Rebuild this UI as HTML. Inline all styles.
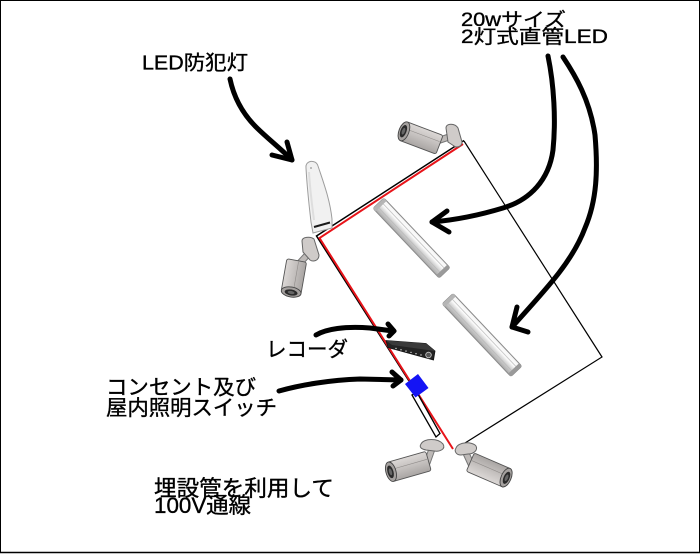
<!DOCTYPE html>
<html>
<head>
<meta charset="utf-8">
<style>
  html,body{margin:0;padding:0;background:#fff;}
  body{width:700px;height:554px;overflow:hidden;position:relative;}
  svg{position:absolute;left:0;top:0;}
  text{font-family:"Liberation Sans","Noto Sans CJK JP",sans-serif;fill:#000;stroke:#000;stroke-width:0.35;}
</style>
</head>
<body>
<svg width="700" height="554" viewBox="0 0 700 554" xmlns="http://www.w3.org/2000/svg">
  <defs>
    <linearGradient id="tube" x1="0" y1="0" x2="0" y2="1">
      <stop offset="0" stop-color="#f4f4f4"/>
      <stop offset="0.35" stop-color="#ffffff"/>
      <stop offset="0.6" stop-color="#d8d8d8"/>
      <stop offset="1" stop-color="#a9a9a9"/>
    </linearGradient>
    <linearGradient id="body" x1="0" y1="0" x2="0" y2="1">
      <stop offset="0" stop-color="#dcd8d6"/>
      <stop offset="0.5" stop-color="#c4c0be"/>
      <stop offset="1" stop-color="#a9a5a3"/>
    </linearGradient>
  </defs>

  <!-- frame -->
  <rect x="0.5" y="0.5" width="699" height="552" fill="#fff" stroke="#000" stroke-width="1"/>
  <line x1="0" y1="552.5" x2="700" y2="552.5" stroke="#000" stroke-width="1.5"/>

  <!-- building outline (thin black) -->
  <polyline points="464,141 602,357 465,443" fill="none" stroke="#000" stroke-width="1.2"/>
  <!-- outer black along wiring -->
  <polyline points="464,140.5 316.5,236 409,381" fill="none" stroke="#000" stroke-width="1.5"/>
  <!-- red wiring -->
  <polyline points="463,144 319.5,238 453,449" fill="none" stroke="#e8141a" stroke-width="2"/>
  <line x1="429" y1="445" x2="432" y2="442" stroke="#e8141a" stroke-width="1.5"/>

  <!-- conduit -->
  <polygon points="412,395 417,392.5 440,433.5 436,437" fill="#fff" stroke="#000" stroke-width="1.3"/>

  <!-- blue switch box -->
  <polygon points="405,384 418,374 428.5,388 415.5,397.5" fill="#1414f5"/>

  <!-- recorder -->
  <polygon points="386,340.5 426,343.5 435,351 433.5,360 388,347.5" fill="#232323" stroke="#111" stroke-width="0.8"/>
  <polygon points="386,340.5 426,343.5 435,351 392,345" fill="#3a3a3a"/>
  <g fill="#ddd">
    <circle cx="396" cy="348.5" r="0.7"/><circle cx="401" cy="349.8" r="0.7"/>
    <circle cx="406" cy="351.1" r="0.7"/><circle cx="411" cy="352.4" r="0.7"/>
    <circle cx="416" cy="353.7" r="0.7"/><circle cx="421" cy="355" r="0.7"/>
  </g>
  <circle cx="428.5" cy="355" r="2.8" fill="#555" stroke="#ccc" stroke-width="0.8"/>

  <!-- fluorescent tubes -->
  <g transform="translate(411.5,238) rotate(46.5)">
    <rect x="-48" y="-7.5" width="96" height="15" rx="2" fill="url(#tube)" stroke="#8a8a8a" stroke-width="1"/>
    <line x1="-45" y1="-3" x2="45" y2="-3" stroke="#c9c9c9" stroke-width="1"/>
    <line x1="-45" y1="3" x2="45" y2="3" stroke="#bdbdbd" stroke-width="1"/>
    <rect x="-48" y="-7.5" width="4" height="15" fill="#b5b5b5"/>
    <rect x="44" y="-7.5" width="4" height="15" fill="#9a9a9a"/>
  </g>
  <g transform="translate(482,335) rotate(46.6)">
    <rect x="-50" y="-7.5" width="100" height="15" rx="2" fill="url(#tube)" stroke="#8a8a8a" stroke-width="1"/>
    <line x1="-47" y1="-3" x2="47" y2="-3" stroke="#c9c9c9" stroke-width="1"/>
    <line x1="-47" y1="3" x2="47" y2="3" stroke="#bdbdbd" stroke-width="1"/>
    <rect x="-50" y="-7.5" width="4" height="15" fill="#b5b5b5"/>
    <rect x="46" y="-7.5" width="4" height="15" fill="#9a9a9a"/>
  </g>

  <!-- LED security light -->
  <path d="M306,168 C305,160 316,159 318,166 C324,184 330,200 332,219 L332,228 L313,233 L311,222 C309,205 307,186 306,168 Z" fill="#f1f1f1" stroke="#9d9d9d" stroke-width="1"/>
  <path d="M309,172 C310,190 312,205 314,220" fill="none" stroke="#dedede" stroke-width="2"/>
  <circle cx="311" cy="168" r="1" fill="#aaa"/>
  <line x1="314" y1="227" x2="330" y2="222.5" stroke="#1a1a1a" stroke-width="2"/>

  <!-- Camera A (top) -->
  <line x1="437" y1="141" x2="452" y2="136" stroke="#777" stroke-width="7" stroke-linecap="round"/>
  <line x1="437" y1="141" x2="452" y2="136" stroke="#bdb9b7" stroke-width="5" stroke-linecap="round"/>
  <path d="M446,128 C446,123 455,123 458,128 L462,142 C462,147 456,148 454,146 L448,142 Z" fill="#cfcbc9" stroke="#666" stroke-width="1"/>
  <g transform="translate(403,131) rotate(20.7)">
    <rect x="0" y="-10" width="39" height="20" rx="2" fill="url(#body)" stroke="#555" stroke-width="0.9"/>
    <line x1="3" y1="-3" x2="38" y2="-3" stroke="#8f8b89" stroke-width="0.6"/>
    <ellipse cx="1" cy="0" rx="5" ry="10" fill="#a5a19f" stroke="#444" stroke-width="0.9"/>
    <ellipse cx="0.5" cy="0" rx="3" ry="6.5" fill="#2a2a2a"/>
    <ellipse cx="0.5" cy="0" rx="1.5" ry="3.5" fill="#666"/>
  </g>

  <!-- Camera B (left, pointing down) -->
  <line x1="297" y1="266" x2="310" y2="252" stroke="#777" stroke-width="7" stroke-linecap="round"/>
  <line x1="297" y1="266" x2="310" y2="252" stroke="#bdb9b7" stroke-width="5" stroke-linecap="round"/>
  <path d="M302,241 C302,237 310,236 314,239 L319,255 C319,261 313,262 310,260 L303,252 Z" fill="#cfcbc9" stroke="#666" stroke-width="1"/>
  <g transform="translate(291,293) rotate(-80)">
    <rect x="0" y="-10" width="33" height="20" rx="2" fill="url(#body)" stroke="#555" stroke-width="0.9"/>
    <line x1="3" y1="2" x2="32" y2="2" stroke="#8f8b89" stroke-width="0.6"/>
    <ellipse cx="1" cy="0" rx="5" ry="10" fill="#a5a19f" stroke="#444" stroke-width="0.9"/>
    <ellipse cx="0.5" cy="0" rx="3" ry="6.5" fill="#2a2a2a"/>
    <ellipse cx="0.5" cy="0" rx="1.5" ry="3.5" fill="#666"/>
  </g>

  <!-- Camera C (bottom-left) -->
  <line x1="427" y1="463" x2="432" y2="449" stroke="#777" stroke-width="7" stroke-linecap="round"/>
  <line x1="427" y1="463" x2="432" y2="449" stroke="#bdb9b7" stroke-width="5" stroke-linecap="round"/>
  <path d="M421,444 C424,438 438,438 443,444 C446,449 440,452 434,451 L426,450 C421,449 419,447 421,444 Z" fill="#cfcbc9" stroke="#666" stroke-width="1"/>
  <g transform="translate(390,472) rotate(-16)">
    <rect x="0" y="-10" width="40" height="20" rx="2" fill="url(#body)" stroke="#555" stroke-width="0.9"/>
    <line x1="3" y1="-2" x2="39" y2="-2" stroke="#8f8b89" stroke-width="0.6"/>
    <ellipse cx="1" cy="0" rx="5" ry="10" fill="#a5a19f" stroke="#444" stroke-width="0.9"/>
    <ellipse cx="0.5" cy="0" rx="3" ry="6.5" fill="#2a2a2a"/>
    <ellipse cx="0.5" cy="0" rx="1.5" ry="3.5" fill="#666"/>
  </g>

  <!-- Camera D (bottom-right) -->
  <line x1="471" y1="464" x2="465" y2="451" stroke="#777" stroke-width="7" stroke-linecap="round"/>
  <line x1="471" y1="464" x2="465" y2="451" stroke="#bdb9b7" stroke-width="5" stroke-linecap="round"/>
  <path d="M456,448 C458,442 472,441 476,446 C478,450 474,454 468,454 L461,455 C456,455 454,451 456,448 Z" fill="#cfcbc9" stroke="#666" stroke-width="1"/>
  <g transform="translate(507,478) rotate(-156.6)">
    <rect x="0" y="-10" width="40" height="20" rx="2" fill="url(#body)" stroke="#555" stroke-width="0.9"/>
    <line x1="3" y1="2" x2="39" y2="2" stroke="#8f8b89" stroke-width="0.6"/>
    <ellipse cx="1" cy="0" rx="5" ry="10" fill="#a5a19f" stroke="#444" stroke-width="0.9"/>
    <ellipse cx="0.5" cy="0" rx="3" ry="6.5" fill="#2a2a2a"/>
    <ellipse cx="0.5" cy="0" rx="1.5" ry="3.5" fill="#666"/>
  </g>

  <!-- hand-drawn arrows -->
  <g fill="none" stroke="#000" stroke-width="5" stroke-linecap="round" stroke-linejoin="round">
    <path d="M230,79 C234,98 243,114 256,127 C267,138 280,148 292,160"/>
    <path d="M287,142 L292,160 L272,155"/>
    <path d="M548,56 C554,85 556,120 553,150 C549,180 530,200 503,208 C480,215 455,220 432,222"/>
    <path d="M447,211 L432,222 L449,232"/>
    <path d="M563,57 C575,75 590,100 595,135 C598,170 597,200 585,228 C573,260 550,285 512,327"/>
    <path d="M517,307 L512,327 L528,332"/>
    <path d="M316,335 C326,329 345,326 370,328 L393,331"/>
    <path d="M388,324 L394,331 L389,336"/>
    <path d="M279,391 C300,385 330,380 360,379 L401,380"/>
    <path d="M392,372 L401,380 L393,386"/>
  </g>

  <!-- labels -->
  <text x="142" y="69.5" font-size="20" textLength="106" lengthAdjust="spacingAndGlyphs">LED防犯灯</text>
  <text x="461" y="26" font-size="19" textLength="105" lengthAdjust="spacingAndGlyphs">20wサイズ</text>
  <text x="461" y="43" font-size="19" textLength="147" lengthAdjust="spacingAndGlyphs">2灯式直管LED</text>
  <text x="266" y="356.5" font-size="21" textLength="82" lengthAdjust="spacingAndGlyphs">レコーダ</text>
  <text x="106" y="394.5" font-size="21" textLength="150" lengthAdjust="spacingAndGlyphs">コンセント及び</text>
  <text x="106" y="415" font-size="21" textLength="171" lengthAdjust="spacingAndGlyphs">屋内照明スイッチ</text>
  <text x="154" y="496" font-size="22" textLength="180" lengthAdjust="spacingAndGlyphs">埋設管を利用して</text>
  <text x="154" y="513" font-size="22" textLength="97" lengthAdjust="spacingAndGlyphs">100V通線</text>
</svg>
</body>
</html>
